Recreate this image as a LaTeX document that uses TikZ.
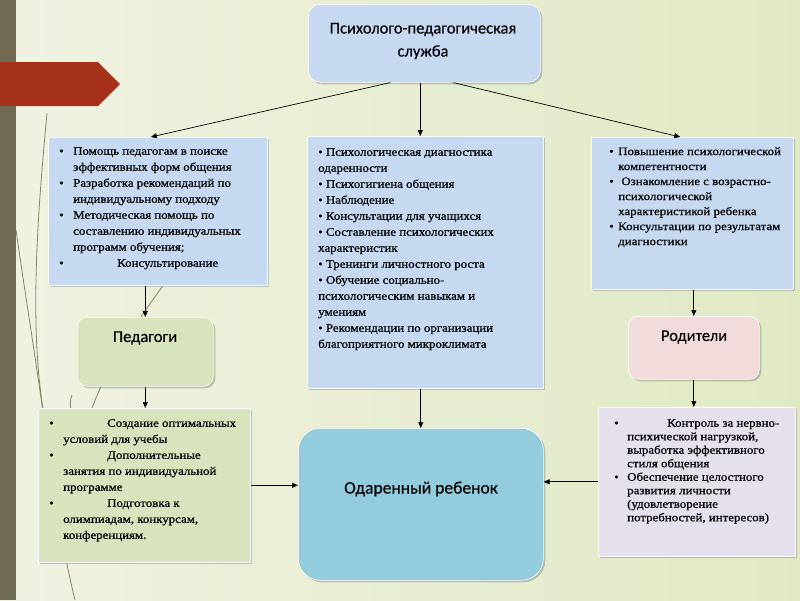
\documentclass[tikz,border=0pt]{standalone}
\usepackage{fontspec}
\setmainfont{Liberation Serif}
\newfontfamily\headfont[FakeBold=0.4]{Carlito}
\newfontfamily\bodyfont[FakeStretch=1.12,FakeBold=0.7]{Liberation Serif}
\usetikzlibrary{arrows.meta,shadows}
\definecolor{bgl}{HTML}{EFF2E1}
\definecolor{bgr}{HTML}{E1E9C4}
\definecolor{strip}{HTML}{716A52}
\definecolor{redarr}{HTML}{A5311B}
\definecolor{grass}{HTML}{8A8468}
\definecolor{lblue}{HTML}{C6D9F1}
\definecolor{lgreen}{HTML}{D7E4BD}
\definecolor{lpink}{HTML}{F2DCDB}
\definecolor{llav}{HTML}{E6E0EC}
\definecolor{teal}{HTML}{93CDDD}
\newcommand{\itm}[2]{\makebox[#1pt][l]{\textbullet}#2}
\newcommand{\ind}[1]{\hspace*{#1pt}}
\tikzset{
  panel/.style={draw=white, line width=0.6pt, anchor=north west, inner sep=0pt,
    drop shadow={shadow xshift=2pt, shadow yshift=-2pt, opacity=0.35, fill=black!60}},
  rpanel/.style={panel, rounded corners=#1},
  body/.style={anchor=north west, inner sep=0pt, align=left,
    font=\bodyfont\fontsize{11.5}{16}\selectfont},
  head/.style={font=\headfont\fontsize{16.5}{23}\selectfont, align=center},
  arr/.style={-{Triangle[length=6pt,width=5pt]}, line width=0.7pt, black},
  grassline/.style={draw=grass, line width=0.8pt}
}
\begin{document}
\begin{tikzpicture}[x=1pt,y=-1pt]
\useasboundingbox (0,0) rectangle (800,600);
% background
\shade[left color=bgl, right color=bgr] (0,0) rectangle (800,600);
\fill[strip] (0,0) rectangle (16,600);
\fill[redarr] (0,62) -- (98,62) -- (120,84) -- (98,106) -- (0,106) -- cycle;
% grass
\draw[grassline] (47,113) .. controls (38,210) and (28,330) .. (45,420) .. controls (52,470) and (60,540) .. (75,600);
\draw[grassline] (16,230) .. controls (26,300) and (36,360) .. (44,420);
\draw[grassline] (165,283) .. controls (130,330) and (100,380) .. (88,420);
\draw[grassline] (72,395) .. controls (70,400) and (70,405) .. (71,410);
% panels
\node[rpanel=12pt, fill=lblue, minimum width=232pt, minimum height=78pt] (top) at (308,4) {};
\node[panel, fill=lblue, minimum width=219pt, minimum height=148pt] (L) at (48,137) {};
\node[panel, fill=lblue, minimum width=236pt, minimum height=252pt] (M) at (307,136) {};
\node[panel, fill=lblue, minimum width=202pt, minimum height=152pt] (R) at (591,137) {};
\node[rpanel=10pt, fill=lgreen, minimum width=136pt, minimum height=69pt] (ped) at (77,317) {};
\node[rpanel=10pt, fill=lpink, minimum width=131pt, minimum height=63pt] (rod) at (628,316) {};
\node[panel, fill=lgreen, minimum width=212pt, minimum height=154pt] (BL) at (38,408) {};
\node[rpanel=22pt, fill=teal, minimum width=245pt, minimum height=152pt] (child) at (298,428) {};
\node[panel, fill=llav, minimum width=197pt, minimum height=149pt] (BR) at (598,407) {};
% headings
\node[head] (toptxt) at (423,41) {Психолого-педагогическая\\служба};
\node[head] (pedtxt) at (145,338) {Педагоги};
\node[head] (rodtxt) at (694,337) {Родители};
\node[head, font=\headfont\fontsize{17.5}{20}\selectfont] (childtxt) at (421,489) {Одаренный ребенок};
% body texts
\node[body] (Ltxt) at (59,147) {%
\itm{14}{Помощь педагогам в поиске}\\
\ind{14}эффективных форм общения\\
\itm{14}{Разработка рекомендаций по}\\
\ind{14}индивидуальному подходу\\
\itm{14}{Методическая помощь по}\\
\ind{14}составлению индивидуальных\\
\ind{14}программ обучения;\\
\itm{58}{Консультирование}};
\node[body] (Mtxt) at (318,148) {%
• Психологическая диагностика\\
одаренности\\
• Психогигиена общения\\
• Наблюдение\\
• Консультации для учащихся\\
• Составление психологических\\
характеристик\\
• Тренинги личностного роста\\
• Обучение социально-\\
психологическим навыкам и\\
умениям\\
• Рекомендации по организации\\
благоприятного микроклимата};
\node[body, font=\bodyfont\fontsize{11.5}{15}\selectfont] (Rtxt) at (609,147) {%
\itm{9}{Повышение психологической}\\
\ind{9}компетентности\\
\itm{9}{\ Ознакомление с возрастно-}\\
\ind{9}психологической\\
\ind{9}характеристикой ребенка\\
\itm{9}{Консультации по результатам}\\
\ind{9}диагностики};
\node[body] (BLtxt) at (49,419) {%
\itm{58}{Создание оптимальных}\\
\ind{14}условий для учебы\\
\itm{58}{Дополнительные}\\
\ind{14}занятия по индивидуальной\\
\ind{14}программе\\
\itm{58}{Подготовка к}\\
\ind{14}олимпиадам, конкурсам,\\
\ind{14}конференциям.};
\node[body, font=\bodyfont\fontsize{11.5}{13.5}\selectfont] (BRtxt) at (614,419) {%
\itm{53}{Контроль за нервно-}\\
\ind{13}психической нагрузкой,\\
\ind{13}выработка эффективного\\
\ind{13}стиля общения\\
\itm{13}{Обеспечение целостного}\\
\ind{13}развития личности\\
\ind{13}(удовлетворение\\
\ind{13}потребностей, интересов)};
% connectors
\draw[arr] ([xshift=-34pt]top.south) -- ([xshift=-7pt]L.north);
\draw[arr] ([xshift=29pt]top.south) -- ([xshift=-12pt]R.north);
\draw[arr] ([xshift=-4pt]top.south) -- ([xshift=-5pt]M.north);
\draw[arr] (ped.north |- L.south) -- (ped.north);
\draw[arr] (ped.south) -- (ped.south |- BL.north);
\draw[arr] (rod.north |- R.south) -- (rod.north);
\draw[arr] (rod.south) -- (rod.south |- BR.north);
\draw[arr] (child.north |- M.south) -- (child.north);
\draw[arr] (BL.east) -- (BL.east -| child.west);
\draw[arr] (BR.west) -- (BR.west -| child.east);
\end{tikzpicture}
\end{document}
